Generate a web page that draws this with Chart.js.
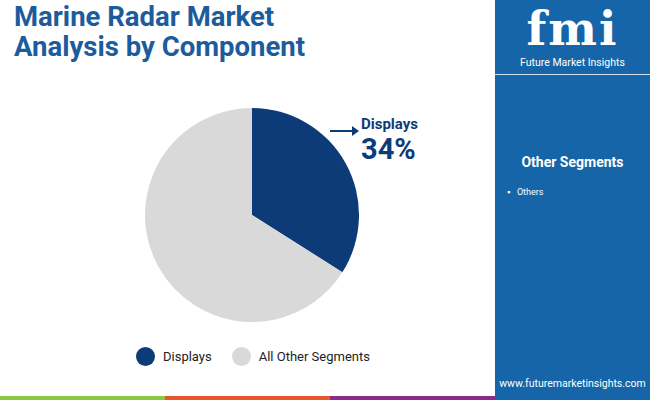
<!DOCTYPE html><html><head><meta charset="utf-8">
<script src="https://cdn.jsdelivr.net/npm/chart.js@4"></script>
<style>
body{margin:0;width:650px;height:400px;position:relative;overflow:hidden;font-family:Roboto,"Open Sans",sans-serif;background:#fff}
#title{position:absolute;left:14px;top:2px;font-size:27.5px;font-weight:700;color:#1d5c9c;line-height:30px;white-space:nowrap}
#panel{position:absolute;left:495px;top:0;width:155px;height:400px;background:#1565a8}
#logo{position:absolute;left:0;top:4px;width:155px;text-align:center;color:#fff}
#logo .f{font-family:"DejaVu Serif",serif;font-size:46px;font-weight:700;line-height:50px;letter-spacing:2px}
#logo .s{font-size:10.5px;margin-top:2px}
#line{position:absolute;left:0;top:74px;width:155px;height:1px;background:#fff;opacity:.8}
#seg{position:absolute;left:0;width:155px;top:154px;text-align:center;color:#fff;font-weight:700;font-size:14px}
#oth{position:absolute;left:12px;top:187px;color:#fff;font-size:9px}
#url{position:absolute;left:0;width:155px;top:377px;text-align:center;color:#fff;font-size:10.5px}
#stripes div{position:absolute;top:396px;height:4px;width:165px}
#cw{position:absolute;left:145px;top:108px;width:214px;height:214px}
#ann{position:absolute;left:361px;top:115px;color:#0d3b78;font-weight:700}
#leg{position:absolute;top:347px;left:136px;font-size:13px;color:#222;display:flex;align-items:center}
.dot{display:inline-block;width:19px;height:19px;border-radius:50%;margin-right:8px}
</style></head><body>
<div id="title">Marine Radar Market<br>Analysis by Component</div>
<div id="cw"><canvas id="c" width="214" height="214"></canvas></div>
<div id="ann"><div style="font-size:15px">Displays</div><div style="font-size:29px;line-height:32px">34%</div></div>
<svg style="position:absolute;left:330px;top:124px" width="30" height="14"><line x1="0" y1="7" x2="22" y2="7" stroke="#0d3b78" stroke-width="2"/><polygon points="22,2 29,7 22,12" fill="#0d3b78"/></svg>
<div id="leg"></div>
<div id="panel"><div id="logo"><div class="f">fmi</div><div class="s">Future Market Insights</div></div><div id="line"></div>
<div id="seg">Other Segments</div><div id="oth">▪&nbsp;&nbsp;&nbsp;Others</div><div id="url">www.futuremarketinsights.com</div></div>
<div id="stripes"><div style="left:0;background:#8dc63f"></div><div style="left:165px;background:#e8562a"></div><div style="left:330px;background:#8a2a8a"></div></div>
<script>
const categories=["Displays","All Other Segments"];
const values=[34,66];
const colors=["#0d3b78","#d9d9d9"];
new Chart(document.getElementById('c'),{type:'pie',data:{labels:categories,datasets:[{data:values,backgroundColor:colors,borderWidth:0}]},
options:{responsive:false,animation:false,plugins:{legend:{display:false},tooltip:{enabled:false}},layout:{padding:0}}});
const leg=document.getElementById('leg');
categories.forEach((c,i)=>{const s=document.createElement('span');s.style.marginRight='20px';s.style.display='flex';s.style.alignItems='center';s.innerHTML='<span class="dot" style="background:'+colors[i]+'"></span>'+c;leg.appendChild(s);});
</script></body></html>
